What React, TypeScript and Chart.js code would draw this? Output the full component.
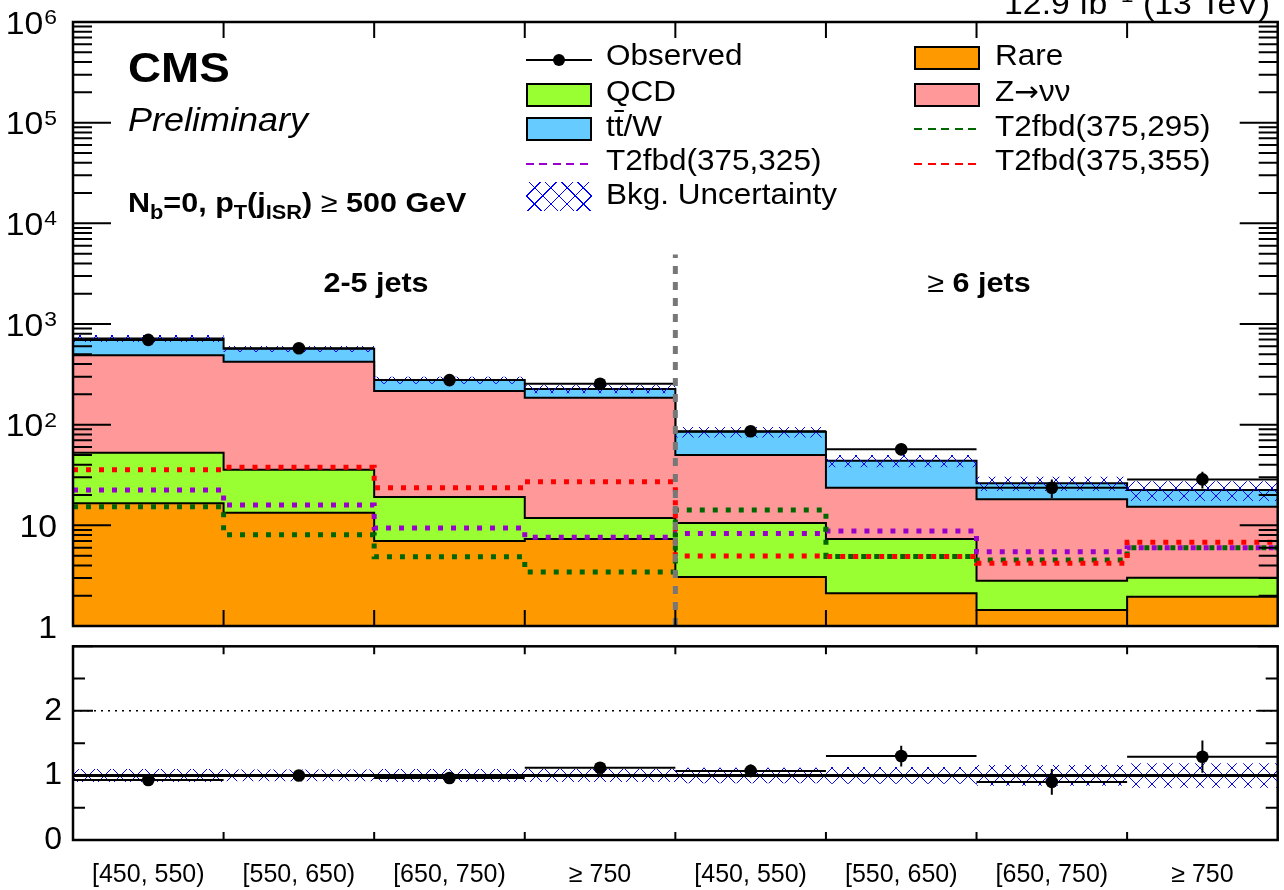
import React, { useEffect, useRef } from 'react';
import { Chart, registerables } from 'chart.js';

Chart.register(...registerables);

// ---------------- data ----------------
const binLabels = ['[450, 550)', '[550, 650)', '[650, 750)', '\u2265 750', '[450, 550)', '[550, 650)', '[650, 750)', '\u2265 750'];
const rare = [16.6, 13.3, 7.0, 7.3, 3.07, 2.11, 1.44, 1.95];
const qcd = [36.0, 22.3, 12.1, 4.5, 7.5, 5.2, 1.38, 1.07];
const znunu = [438, 385, 197, 173, 39.3, 16.3, 15.3, 12.3];
const ttw = [228, 146, 61, 41, 35, 20.2, 8.0, 7.1];
const observed = [695, 575, 277, 255, 86, 57, 23.6, 28.6];
const observedErr = [26, 24, 17, 16, 9.3, 7.5, 4.9, 5.4];
const bkgRelUnc = [0.08, 0.07, 0.08, 0.09, 0.12, 0.14, 0.16, 0.22];
const sigT2fbd295 = [15.3, 8.07, 4.87, 3.44, 14.2, 4.9, 4.52, 6.0];
const sigT2fbd325 = [22.4, 15.9, 9.4, 7.6, 8.3, 8.78, 5.47, 6.0];
const sigT2fbd355 = [35.6, 37.7, 23.6, 27.1, 4.96, 4.9, 4.19, 6.78];
const ratio = [0.93, 1.0, 0.96, 1.12, 1.07, 1.3, 0.9, 1.29];
const ratioErr = [0.04, 0.04, 0.05, 0.07, 0.1, 0.16, 0.2, 0.25];
const ratioUnc = [0.1, 0.09, 0.1, 0.1, 0.12, 0.13, 0.16, 0.19];
const logTickExps = [0, 1, 2, 3, 4, 5, 6];
const ratioTicks = [0, 1, 2];
const dividerBin = 4;
const dividerTop = 4900;

// ---------------- style ----------------
const FONT = "'Liberation Sans', Arial, Helvetica, sans-serif";
const SX = 1.09;
const ORANGE = '#ff9900';
const GREEN = '#99ff33';
const PINK = '#ff9999';
const BLUE = '#66ccff';
const C295 = '#006600';
const C325 = '#9900cc';
const C355 = '#ff0000';

const nb = rare.length;
const cumRare = rare.slice();
const cumQcd = cumRare.map((v, i) => v + qcd[i]);
const cumZ = cumQcd.map((v, i) => v + znunu[i]);
const cumTot = cumZ.map((v, i) => v + ttw[i]);

const step = (vals: number[]) => [...vals.map((v, i) => ({ x: i, y: v })), { x: vals.length, y: vals[vals.length - 1] }];
const hbars = (vals: number[]) => vals.flatMap((v, i) => [{ x: i, y: v }, { x: i + 1, y: v }, { x: i + 1, y: null as any }]);
const vbars = (vals: number[], errs: number[]) =>
  vals.flatMap((v, i) => [{ x: i + 0.5, y: v - errs[i] }, { x: i + 0.5, y: v + errs[i] }, { x: i + 0.5, y: null as any }]);
const centers = (vals: number[]) => vals.map((v, i) => ({ x: i + 0.5, y: v }));

function hatchPattern(): any {
  const c = document.createElement('canvas');
  c.width = 16;
  c.height = 16;
  const g = c.getContext('2d')!;
  g.strokeStyle = '#0000ff';
  g.lineWidth = 1;
  g.beginPath();
  g.moveTo(-2, -2);
  g.lineTo(18, 18);
  g.moveTo(18, -2);
  g.lineTo(-2, 18);
  g.stroke();
  return g.createPattern(c, 'repeat');
}

function scaledText(ctx: CanvasRenderingContext2D, s: string, xr: number, yb: number, font: string) {
  ctx.save();
  ctx.font = font;
  ctx.textAlign = 'right';
  ctx.textBaseline = 'alphabetic';
  ctx.translate(xr, yb);
  ctx.scale(SX, 1);
  ctx.fillText(s, 0, 0);
  const w = ctx.measureText(s).width * SX;
  ctx.restore();
  return w;
}

const mainFrame = {
  id: 'mainFrame',
  afterDatasetsDraw(chart: any) {
    const { ctx, chartArea: a } = chart;
    const x = chart.scales.x;
    const y = chart.scales.y;
    ctx.save();
    ctx.setLineDash([]);
    ctx.strokeStyle = '#000';
    ctx.lineWidth = 2;
    ctx.beginPath();
    logTickExps.forEach((k) => {
      for (let m = 1; m <= 9; m++) {
        const v = m * Math.pow(10, k);
        if (v > y.max) break;
        const py = y.getPixelForValue(v);
        const len = m === 1 ? 38 : 19;
        ctx.moveTo(a.left, py);
        ctx.lineTo(a.left + len, py);
        ctx.moveTo(a.right, py);
        ctx.lineTo(a.right - len, py);
      }
    });
    for (let i = 1; i < nb; i++) {
      const px = x.getPixelForValue(i);
      ctx.moveTo(px, a.bottom);
      ctx.lineTo(px, a.bottom - 16);
      ctx.moveTo(px, a.top);
      ctx.lineTo(px, a.top + 16);
    }
    ctx.stroke();
    ctx.lineWidth = 2.5;
    ctx.strokeRect(a.left, a.top, a.right - a.left, a.bottom - a.top);
    ctx.fillStyle = '#000';
    const xr = a.left - 16;
    logTickExps.forEach((k) => {
      const py = y.getPixelForValue(Math.pow(10, k));
      if (k === 0) scaledText(ctx, '1', xr, py + 11.5, `31px ${FONT}`);
      else if (k === 1) scaledText(ctx, '10', xr, py + 11.5, `31px ${FONT}`);
      else {
        const w = scaledText(ctx, String(k), xr, py + 2, `21px ${FONT}`);
        scaledText(ctx, '10', xr - w - 1, py + 11.5, `31px ${FONT}`);
      }
    });
    ctx.restore();
  },
};

const ratioFrame = {
  id: 'ratioFrame',
  afterDatasetsDraw(chart: any) {
    const { ctx, chartArea: a } = chart;
    const x = chart.scales.x;
    const y = chart.scales.y;
    ctx.save();
    ctx.setLineDash([]);
    ctx.strokeStyle = '#000';
    ctx.lineWidth = 2;
    ctx.beginPath();
    for (let v = 0; v <= y.max + 1e-9; v += 0.5) {
      const py = y.getPixelForValue(v);
      const len = Math.abs(v - Math.round(v)) < 1e-9 ? 20 : 12;
      ctx.moveTo(a.left, py);
      ctx.lineTo(a.left + len, py);
      ctx.moveTo(a.right, py);
      ctx.lineTo(a.right - len, py);
    }
    for (let i = 1; i < nb; i++) {
      const px = x.getPixelForValue(i);
      ctx.moveTo(px, a.bottom);
      ctx.lineTo(px, a.bottom - 8);
      ctx.moveTo(px, a.top);
      ctx.lineTo(px, a.top + 8);
    }
    ctx.stroke();
    ctx.lineWidth = 2.5;
    ctx.strokeRect(a.left, a.top, a.right - a.left, a.bottom - a.top);
    ctx.restore();
  },
};

function Txt(props: any) {
  const { x, base, size, bold, italic, align = 'left', children, sx = SX } = props;
  const W = 1200;
  const left = align === 'left' ? x : align === 'center' ? x - W / 2 : x - W;
  const origin = align === 'left' ? 'left center' : align === 'center' ? 'center center' : 'right center';
  return (
    <div
      style={{
        position: 'absolute',
        left,
        top: base - 0.8465 * size,
        width: W,
        fontSize: size,
        lineHeight: `${size}px`,
        fontWeight: bold ? 700 : 400,
        fontStyle: italic ? 'italic' : 'normal',
        textAlign: align,
        whiteSpace: 'nowrap',
        color: '#000',
        fontFamily: FONT,
        transform: `scaleX(${sx})`,
        transformOrigin: origin,
      }}
    >
      {children}
    </div>
  );
}

const Sub = ({ children, size = 20, shift = -7 }: any) => (
  <span style={{ fontSize: size, verticalAlign: shift, lineHeight: 0 }}>{children}</span>
);

const LX1 = 526;
const LX2 = 914;
const TX1 = 606;
const TX2 = 995;
const LW = 66;
const rowBase = [65, 101.5, 136, 170.5, 204.5];

const Box = ({ x, base, color }: any) => (
  <div style={{ position: 'absolute', left: x, top: base - 19, width: LW, height: 24, background: color, border: '2px solid #000', boxSizing: 'border-box' }} />
);
const Dash = ({ x, base, color }: any) => (
  <div
    style={{
      position: 'absolute',
      left: x,
      top: base - 8,
      width: LW,
      height: 2,
      background: `repeating-linear-gradient(90deg, ${color} 0 8px, transparent 8px 13.5px)`,
    }}
  />
);

export default function App() {
  const mainRef = useRef<HTMLCanvasElement>(null);
  const ratioRef = useRef<HTMLCanvasElement>(null);

  useEffect(() => {
    const pattern = hatchPattern();
    const hist = (vals: number[], color: string, order: number) => ({
      data: step(vals),
      stepped: true,
      fill: 'start',
      backgroundColor: color,
      borderColor: '#000',
      borderWidth: 2,
      pointRadius: 0,
      order,
    });
    const sig = (vals: number[], color: string, order: number) => ({
      data: step(vals),
      stepped: true,
      fill: false,
      borderColor: color,
      borderWidth: 5,
      borderDash: [5, 8],
      pointRadius: 0,
      order,
    });
    const band = (upper: number[], lower: number[], order: number) => [
      {
        data: step(upper),
        stepped: true,
        fill: '+1',
        backgroundColor: pattern,
        borderWidth: 0,
        borderColor: 'rgba(0,0,0,0)',
        pointRadius: 0,
        order,
      },
      {
        data: step(lower),
        stepped: true,
        fill: false,
        borderWidth: 0,
        borderColor: 'rgba(0,0,0,0)',
        pointRadius: 0,
        order,
      },
    ];
    const main = new Chart(mainRef.current as HTMLCanvasElement, {
      type: 'line',
      data: {
        datasets: [
          {
            data: [{ x: dividerBin, y: 1 }, { x: dividerBin, y: dividerTop }],
            borderColor: '#777777',
            borderWidth: 5,
            borderDash: [8, 8],
            pointRadius: 0,
            fill: false,
            order: 0,
          },
          {
            data: centers(observed),
            showLine: false,
            pointRadius: 6.3,
            pointBackgroundColor: '#000',
            pointBorderColor: '#000',
            pointBorderWidth: 0,
            order: 1,
          },
          { data: hbars(observed), borderColor: '#000', borderWidth: 2, pointRadius: 0, spanGaps: false, fill: false, order: 2 },
          { data: vbars(observed, observedErr), borderColor: '#000', borderWidth: 2, pointRadius: 0, spanGaps: false, fill: false, order: 2 },
          ...band(
            cumTot.map((v, i) => v * (1 + bkgRelUnc[i])),
            cumTot.map((v, i) => v * (1 - bkgRelUnc[i])),
            3,
          ),
          sig(sigT2fbd355, C355, 4),
          sig(sigT2fbd295, C295, 5),
          sig(sigT2fbd325, C325, 6),
          hist(cumRare, ORANGE, 7),
          hist(cumQcd, GREEN, 8),
          hist(cumZ, PINK, 9),
          hist(cumTot, BLUE, 10),
        ] as any,
      },
      options: {
        responsive: false,
        animation: false,
        events: [],
        layout: { padding: { left: 73, right: 1, top: 22, bottom: 14 } },
        scales: {
          x: { type: 'linear', min: 0, max: nb, display: false },
          y: { type: 'logarithmic', min: 1, max: 1e6, display: false },
        },
        plugins: { legend: { display: false }, tooltip: { enabled: false } },
        elements: { point: { radius: 0, hitRadius: 0 }, line: { tension: 0, borderJoinStyle: 'miter' } },
      } as any,
      plugins: [mainFrame],
    });

    const rat = new Chart(ratioRef.current as HTMLCanvasElement, {
      type: 'line',
      data: {
        datasets: [
          {
            data: centers(ratio),
            showLine: false,
            pointRadius: 6.3,
            pointBackgroundColor: '#000',
            pointBorderColor: '#000',
            pointBorderWidth: 0,
            order: 0,
          },
          { data: hbars(ratio), borderColor: '#000', borderWidth: 2, pointRadius: 0, spanGaps: false, fill: false, order: 1 },
          { data: vbars(ratio, ratioErr), borderColor: '#000', borderWidth: 2, pointRadius: 0, spanGaps: false, fill: false, order: 1 },
          { data: [{ x: 0, y: 1 }, { x: nb, y: 1 }], borderColor: '#000', borderWidth: 3, pointRadius: 0, fill: false, order: 2 },
          ...band(
            ratioUnc.map((u) => 1 + u),
            ratioUnc.map((u) => 1 - u),
            3,
          ),
          { data: [{ x: 0, y: 2 }, { x: nb, y: 2 }], borderColor: '#000', borderWidth: 1.5, borderDash: [2, 5], pointRadius: 0, fill: false, order: 4 },
        ] as any,
      },
      options: {
        responsive: false,
        animation: false,
        events: [],
        layout: { padding: { left: 0, right: 1, top: 6, bottom: 0 } },
        scales: {
          x: {
            type: 'linear',
            min: 0,
            max: nb,
            grid: { display: false, drawTicks: false },
            border: { display: false },
            afterBuildTicks: (s: any) => {
              s.ticks = binLabels.map((_, i) => ({ value: i + 0.5 }));
            },
            afterFit: (s: any) => {
              s.height = 50;
              s.paddingLeft = 0;
              s.paddingRight = 0;
            },
            ticks: {
              callback: (_v: any, i: number) => binLabels[i],
              font: { family: FONT, size: 25 },
              color: '#000',
              padding: 20,
              maxRotation: 0,
              minRotation: 0,
              autoSkip: false,
            },
          },
          y: {
            type: 'linear',
            min: 0,
            max: 3,
            grid: { display: false, drawTicks: false },
            border: { display: false },
            afterBuildTicks: (s: any) => {
              s.ticks = ratioTicks.map((v) => ({ value: v }));
            },
            afterFit: (s: any) => {
              s.width = 73;
              s.paddingTop = 0;
              s.paddingBottom = 0;
            },
            ticks: {
              callback: (v: any) => String(v),
              font: { family: FONT, size: 32 },
              color: '#000',
              padding: 11,
            },
          },
        },
        plugins: { legend: { display: false }, tooltip: { enabled: false } },
        elements: { point: { radius: 0, hitRadius: 0 }, line: { tension: 0, borderJoinStyle: 'miter' } },
      } as any,
      plugins: [ratioFrame],
    });

    return () => {
      main.destroy();
      rat.destroy();
    };
  }, []);

  const hatchCss =
    'repeating-linear-gradient(45deg, transparent 0 10.5px, #0000ff 10.5px 11.5px), repeating-linear-gradient(-45deg, transparent 0 10.5px, #0000ff 10.5px 11.5px)';

  return (
    <div style={{ position: 'absolute', left: 0, top: 0, width: 1284, height: 890, background: '#fff', overflow: 'hidden', fontFamily: FONT }}>
      <canvas ref={mainRef} width={1284} height={640} style={{ position: 'absolute', left: 0, top: 0, width: 1284, height: 640 }} />
      <canvas ref={ratioRef} width={1284} height={250} style={{ position: 'absolute', left: 0, top: 640, width: 1284, height: 250 }} />

      {/* header */}
      <Txt x={1270} base={14} size={31} align="right">
        12.9 fb<Sub size={21} shift={12}>{'\u22121'}</Sub> (13 TeV)
      </Txt>
      <Txt x={128} base={83} size={42} bold>CMS</Txt>
      <Txt x={128} base={131} size={33} italic>Preliminary</Txt>
      <Txt x={128} base={213} size={28} bold>
        N<Sub>b</Sub>=0, p<Sub>T</Sub>(j<Sub>ISR</Sub>) <span style={{ fontWeight: 400 }}>{'\u2265'}</span> 500 GeV
      </Txt>
      <Txt x={376} base={293} size={28} bold align="center">2-5 jets</Txt>
      <Txt x={979} base={293} size={28} bold align="center">
        <span style={{ fontWeight: 400 }}>{'\u2265'}</span> 6 jets
      </Txt>

      {/* legend column 1 */}
      <div style={{ position: 'absolute', left: LX1, top: rowBase[0] - 6, width: LW, height: 2, background: '#000' }} />
      <div style={{ position: 'absolute', left: LX1 + LW / 2 - 6.3, top: rowBase[0] - 5 - 6.3, width: 12.6, height: 12.6, borderRadius: '50%', background: '#000' }} />
      <Txt x={TX1} base={rowBase[0]} size={30} sx={1.05}>Observed</Txt>
      <Box x={LX1} base={rowBase[1]} color={GREEN} />
      <Txt x={TX1} base={rowBase[1]} size={30} sx={1.05}>QCD</Txt>
      <Box x={LX1} base={rowBase[2]} color={BLUE} />
      <Txt x={TX1} base={rowBase[2]} size={30} sx={1.05}>
        t
        <span style={{ position: 'relative' }}>
          t<span style={{ position: 'absolute', left: 0, top: 1, width: '100%', height: 2, background: '#000' }} />
        </span>
        /W
      </Txt>
      <Dash x={LX1} base={rowBase[3]} color={C325} />
      <Txt x={TX1} base={rowBase[3]} size={30} sx={1.05}>T2fbd(375,325)</Txt>
      <div style={{ position: 'absolute', left: LX1, top: rowBase[4] - 23, width: LW, height: 29, backgroundImage: hatchCss }} />
      <Txt x={TX1} base={rowBase[4]} size={30} sx={1.05}>Bkg. Uncertainty</Txt>

      {/* legend column 2 */}
      <Box x={LX2} base={rowBase[0]} color={ORANGE} />
      <Txt x={TX2} base={rowBase[0]} size={30} sx={1.05}>Rare</Txt>
      <Box x={LX2} base={rowBase[1]} color={PINK} />
      <Txt x={TX2} base={rowBase[1]} size={30} sx={1.05}>
        Z<span style={{ fontFamily: "'DejaVu Sans', sans-serif", fontSize: 28 }}>{'\u2192'}</span>{'\u03bd\u03bd'}
      </Txt>
      <Dash x={LX2} base={rowBase[2]} color={C295} />
      <Txt x={TX2} base={rowBase[2]} size={30} sx={1.05}>T2fbd(375,295)</Txt>
      <Dash x={LX2} base={rowBase[3]} color={C355} />
      <Txt x={TX2} base={rowBase[3]} size={30} sx={1.05}>T2fbd(375,355)</Txt>
    </div>
  );
}
